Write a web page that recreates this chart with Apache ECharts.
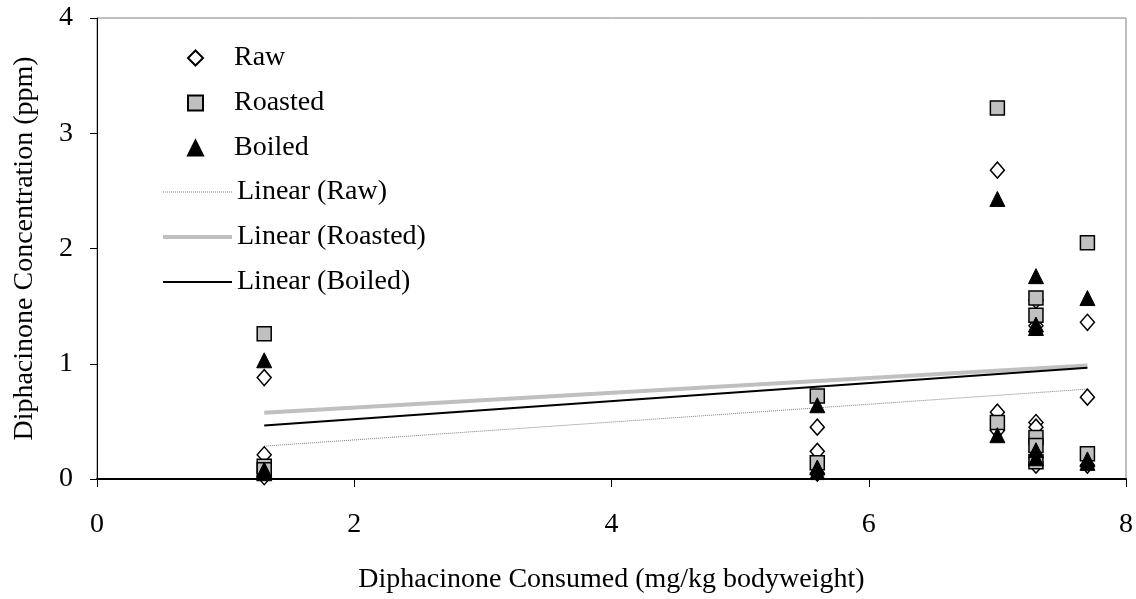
<!DOCTYPE html>
<html>
<head>
<meta charset="utf-8">
<script src="https://cdn.jsdelivr.net/npm/echarts@6/dist/echarts.min.js"></script>
<style>
html,body{margin:0;padding:0;background:#fff;}
#chart{width:1136px;height:599px;}
</style>
</head>
<body>
<div id="chart"></div>
<script>
// Data
const rawX     = [1.3, 1.3, 1.3, 5.6, 5.6, 5.6, 7.0, 7.0, 7.0, 7.3, 7.3, 7.3, 7.3, 7.3, 7.3, 7.7, 7.7, 7.7];
const rawY     = [0.88, 0.21, 0.02, 0.45, 0.24, 0.05, 2.68, 0.58, 0.42, 1.55, 1.33, 0.49, 0.45, 0.14, 0.12, 1.36, 0.71, 0.12];
const roastX   = [1.3, 1.3, 1.3, 5.6, 5.6, 7.0, 7.0, 7.3, 7.3, 7.3, 7.3, 7.3, 7.7, 7.7];
const roastY   = [1.26, 0.11, 0.08, 0.72, 0.14, 3.22, 0.49, 1.57, 1.42, 0.36, 0.29, 0.15, 2.05, 0.22];
const boilX    = [1.3, 1.3, 1.3, 5.6, 5.6, 5.6, 7.0, 7.0, 7.3, 7.3, 7.3, 7.3, 7.3, 7.7, 7.7, 7.7];
const boilY    = [1.03, 0.08, 0.05, 0.64, 0.10, 0.06, 2.43, 0.38, 1.76, 1.34, 1.31, 0.25, 0.18, 1.57, 0.17, 0.14];
// Trendline end points (x at 1.3 and 7.7)
const trendX        = [1.3, 7.7];
const trendRawY     = [0.285, 0.78];
const trendRoastY   = [0.575, 0.985];
const trendBoilY    = [0.465, 0.965];
const xTicks = [0, 2, 4, 6, 8];
const yTicks = [0, 1, 2, 3, 4];
const markerNames = ['Raw', 'Roasted', 'Boiled'];
const lineNames = ['Linear (Raw)', 'Linear (Roasted)', 'Linear (Boiled)'];

const pairs = (xs, ys) => xs.map((x, i) => [x, ys[i]]);
const font = 'Liberation Serif';
const fs = 28;

const chart = echarts.init(document.getElementById('chart'), null, {renderer: 'canvas'});
chart.setOption({
  animation: false,
  backgroundColor: '#ffffff',
  grid: {left: 97, right: 10, top: 18, bottom: 119, show: true, borderColor: '#808080', borderWidth: 1},
  xAxis: {
    type: 'value', min: xTicks[0], max: xTicks[xTicks.length - 1], interval: 2,
    name: 'Diphacinone Consumed (mg/kg bodyweight)', nameLocation: 'middle', nameGap: 87,
    nameTextStyle: {fontFamily: font, fontSize: fs, color: '#000'},
    axisLine: {onZero: false, lineStyle: {color: '#000', width: 2}},
    axisTick: {show: true, inside: false, length: 8, lineStyle: {color: '#000'}},
    axisLabel: {fontFamily: font, fontSize: fs, color: '#000', margin: 32},
    splitLine: {show: false}
  },
  yAxis: {
    type: 'value', min: yTicks[0], max: yTicks[yTicks.length - 1], interval: 1,
    name: 'Diphacinone Concentration (ppm)', nameLocation: 'middle', nameGap: 58,
    nameTextStyle: {fontFamily: font, fontSize: fs, color: '#000'},
    axisLine: {show: true, lineStyle: {color: '#000', width: 1}},
    axisTick: {show: true, inside: false, length: 7, lineStyle: {color: '#000'}},
    axisLabel: {fontFamily: font, fontSize: fs, color: '#000', margin: 24},
    splitLine: {show: false}
  },
  legend: [{
    orient: 'vertical', left: 182, top: 38,
    itemWidth: 15, itemHeight: 15, itemGap: 15,
    textStyle: {fontFamily: font, fontSize: fs, color: '#000', lineHeight: 30, padding: [0, 0, 0, 26]},
    data: markerNames
  }, {
    orient: 'vertical', left: 156, top: 172,
    itemWidth: 69, itemHeight: 14, itemGap: 15,
    itemStyle: {opacity: 0},
    textStyle: {fontFamily: font, fontSize: fs, color: '#000', lineHeight: 30},
    data: [
      {name: lineNames[0], lineStyle: {width: 1}},
      {name: lineNames[1], lineStyle: {width: 4}},
      {name: lineNames[2], lineStyle: {width: 2}}
    ]
  }],
  series: [
    {name: lineNames[0], type: 'line', data: pairs(trendX, trendRawY), symbol: 'none', z: 1,
     lineStyle: {color: '#808080', width: 1, type: 'dotted'}, itemStyle: {color: '#808080'}},
    {name: lineNames[1], type: 'line', data: pairs(trendX, trendRoastY), symbol: 'none', z: 1,
     lineStyle: {color: '#c0c0c0', width: 4}, itemStyle: {color: '#c0c0c0'}},
    {name: lineNames[2], type: 'line', data: pairs(trendX, trendBoilY), symbol: 'none', z: 1,
     lineStyle: {color: '#000000', width: 2}, itemStyle: {color: '#000000'}},
    {name: markerNames[0], type: 'scatter', data: pairs(rawX, rawY), symbol: 'diamond', symbolSize: [14, 16], z: 3,
     itemStyle: {color: '#ffffff', borderColor: '#000', borderWidth: 1.5, opacity: 1}},
    {name: markerNames[1], type: 'scatter', data: pairs(roastX, roastY), symbol: 'rect', symbolSize: 14, z: 4,
     itemStyle: {color: '#c0c0c0', borderColor: '#000', borderWidth: 1.5, opacity: 1}},
    {name: markerNames[2], type: 'scatter', data: pairs(boilX, boilY), symbol: 'triangle', symbolSize: [15, 15], z: 5,
     itemStyle: {color: '#000000', borderColor: '#000', borderWidth: 1, opacity: 1}}
  ]
});
</script>
</body>
</html>
